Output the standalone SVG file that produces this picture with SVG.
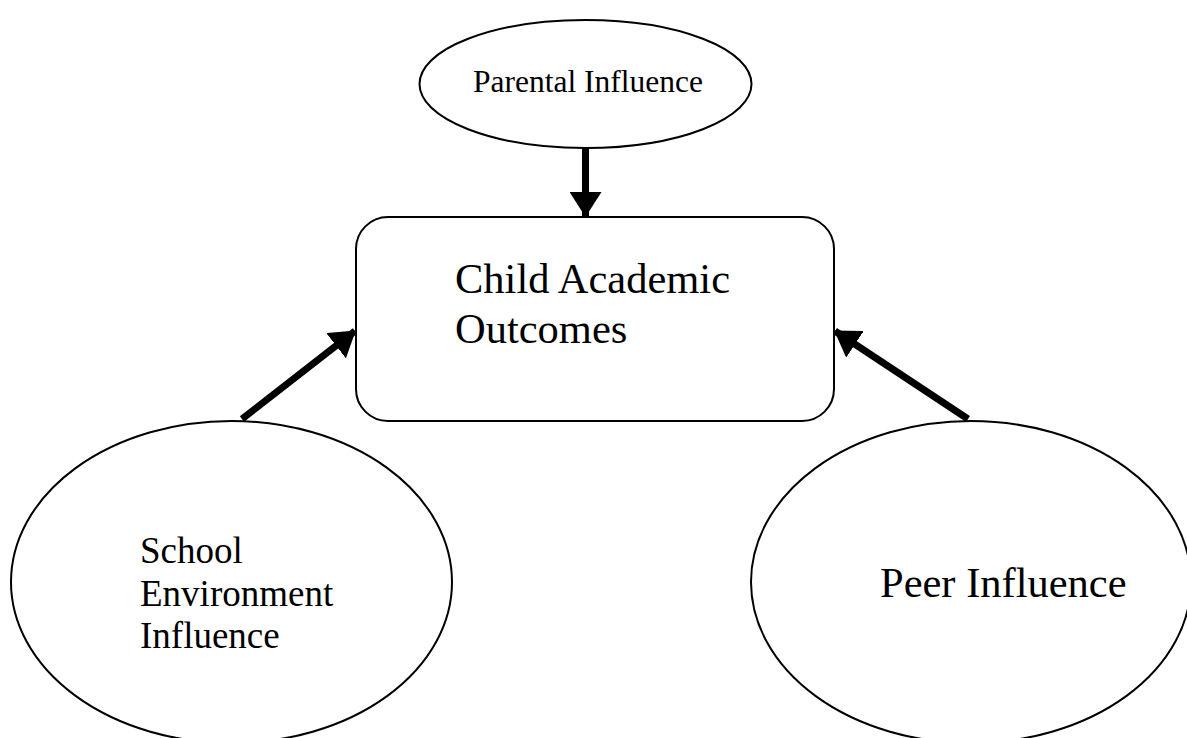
<svg xmlns="http://www.w3.org/2000/svg" width="1187" height="738" viewBox="0 0 1187 738">
<style>
.shape{fill:#fff;stroke:#000;stroke-width:2}
.lbl{font-family:"Liberation Serif","Times New Roman",serif;fill:#000}
.conn{stroke:#000;stroke-width:7;fill:none}
</style>
<defs>
<marker id="ah" markerUnits="userSpaceOnUse" markerWidth="26" markerHeight="32" refX="24" refY="16" orient="auto">
<path d="M0,0 L25,16 L0,32 Z" fill="#000"/>
</marker>
</defs>
<rect width="1187" height="738" fill="#fff"/>
<g id="node-parental">
<ellipse class="shape" cx="585.5" cy="84" rx="166" ry="64"/>
<text class="lbl" x="473" y="92" font-size="31.5">Parental Influence</text>
</g>
<g id="node-child">
<rect class="shape" x="356" y="217" width="478" height="204" rx="32" ry="32"/>
<text class="lbl" x="455" y="293" font-size="42.5">Child Academic</text>
<text class="lbl" x="455" y="343" font-size="42.5">Outcomes</text>
</g>
<g id="node-school">
<ellipse class="shape" cx="231.5" cy="582" rx="220.5" ry="161"/>
<text class="lbl" x="140" y="563" font-size="37">School</text>
<text class="lbl" x="140" y="606" font-size="37">Environment</text>
<text class="lbl" x="140" y="648" font-size="37">Influence</text>
</g>
<g id="node-peer">
<ellipse class="shape" cx="971" cy="582" rx="220" ry="161"/>
<text class="lbl" x="880" y="597" font-size="42.5">Peer Influence</text>
</g>
<g id="connectors">
<line class="conn" x1="585.5" y1="148" x2="585.5" y2="216" marker-end="url(#ah)"/>
<line class="conn" x1="242" y1="419" x2="355" y2="331" marker-end="url(#ah)"/>
<line class="conn" x1="968" y1="419" x2="835" y2="331" marker-end="url(#ah)"/>
</g>
</svg>
